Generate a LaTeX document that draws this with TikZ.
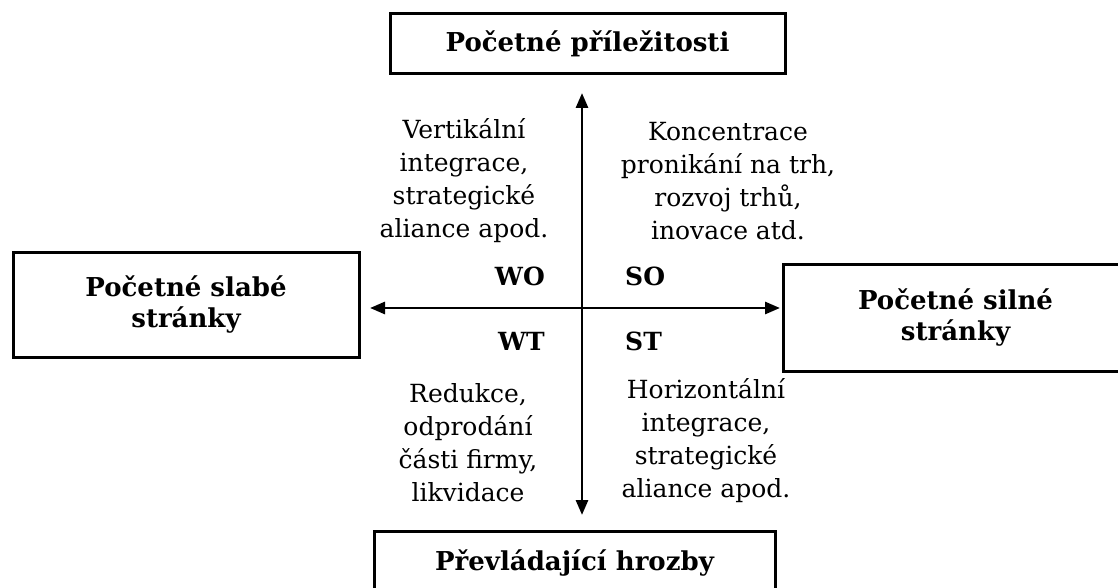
\documentclass[tikz,border=0pt]{standalone}
\usepackage{fontspec}
\setmainfont{DejaVu Serif}
\usetikzlibrary{arrows.meta}

\begin{document}
\begin{tikzpicture}[x=1pt,y=-1pt,
    box/.style={draw,line width=3pt,inner sep=0pt,align=center,
      font=\bfseries\fontsize{26}{31}\selectfont},
    quad/.style={align=center,inner sep=0pt,font=\fontsize{25}{33}\selectfont},
    tag/.style={inner sep=0pt,font=\bfseries\fontsize{25}{30}\selectfont},
    axis/.style={line width=2.8pt,
      {Triangle[length=15pt,width=12pt]}-{Triangle[length=15pt,width=12pt]}}]
  \useasboundingbox (0,0) rectangle (1118,588);

  % the four boxes
  \node[box,minimum width=395pt,minimum height=60pt]  (opps)    at (587.5,44)  {Početné příležitosti};
  \node[box,minimum width=346pt,minimum height=105pt] (weak)    at (186,304.5) {Početné slabé\\stránky};
  \node[box,minimum width=345pt,minimum height=107pt] (strong)  at (955.5,317.5) {Početné silné\\stránky};
  \node[box,minimum width=401pt,minimum height=64pt]  (threats) at (574.5,563) {Převládající hrozby};

  % axes
  \coordinate (n) at (582,93);
  \coordinate (s) at (582,515);
  \coordinate (w) at (370,308);
  \coordinate (e) at (780,308);
  \draw[axis] (s) -- (n);
  \draw[axis] (w) -- (e);

  % quadrant tags
  \node[tag,anchor=base east] (wo) at (545,285) {WO};
  \node[tag,anchor=base west] (so) at (625,285) {SO};
  \node[tag,anchor=base east] (wt) at (545,350) {WT};
  \node[tag,anchor=base west] (st) at (625,350) {ST};

  % strategies
  \node[quad] (woText) at (464,181) {Vertikální\\integrace,\\strategické\\aliance apod.};
  \node[quad] (soText) at (728,181) {Koncentrace\\pronikání na trh,\\rozvoj trhů,\\inovace atd.};
  \node[quad] (wtText) at (468,443) {Redukce,\\odprodání\\části firmy,\\likvidace};
  \node[quad] (stText) at (706,441) {Horizontální\\integrace,\\strategické\\aliance apod.};
\end{tikzpicture}
\end{document}
